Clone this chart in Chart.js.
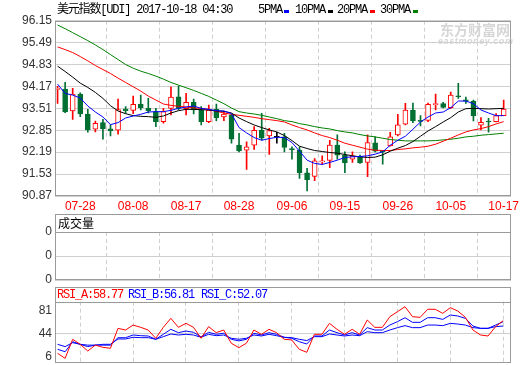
<!DOCTYPE html>
<html><head><meta charset="utf-8">
<script src="https://cdn.jsdelivr.net/npm/chart.js@4.4.0/dist/chart.umd.min.js"></script>
<style>
html,body{margin:0;padding:0;background:#fff;}
#wrap{position:relative;width:520px;height:365px;overflow:hidden;background:#fff;}
canvas{position:absolute;left:0;top:0;}
.t{position:absolute;white-space:nowrap;font-size:12px;line-height:12px;}
.mono{font-family:'Liberation Mono','Noto Sans CJK SC',monospace;letter-spacing:-1.2px;}
.sq{position:absolute;width:5px;height:3px;}
</style></head><body>
<div id="wrap">
<canvas id="c1" width="520" height="365"></canvas>
<canvas id="c2" width="520" height="365"></canvas>
<canvas id="c3" width="520" height="365"></canvas>
<div class="t" style="left:440px;top:22px;font-family:'Noto Sans CJK SC';font-weight:bold;font-size:14px;line-height:15px;color:#d6d6d6;">东方财富网</div>
<div class="t" style="left:438px;top:37px;font-family:'Liberation Sans';font-weight:bold;font-style:italic;font-size:9px;line-height:9px;letter-spacing:0.6px;color:#d6d6d6;">eastmoney.com</div>
<div class="t mono" style="left:57px;top:4px;color:#000;">美元指数[UDI] 2017-10-18 04:30</div>
<div class="t mono" style="left:258px;top:4px;">5PMA</div><div class="sq" style="left:284px;top:10px;background:#0000ff"></div>
<div class="t mono" style="left:295px;top:4px;">10PMA</div><div class="sq" style="left:328px;top:10px;background:#000"></div>
<div class="t mono" style="left:337px;top:4px;">20PMA</div><div class="sq" style="left:370px;top:10px;background:#ff0000"></div>
<div class="t mono" style="left:380px;top:4px;">30PMA</div><div class="sq" style="left:413px;top:10px;background:#008000"></div>
<div class="t" style="left:58px;top:217px;font-family:'Noto Sans CJK SC';">成交量</div>
<div class="t mono" style="left:57px;top:289px;color:#ff0000;">RSI_A:58.77</div>
<div class="t mono" style="left:128px;top:289px;color:#0000ff;">RSI_B:56.81</div>
<div class="t mono" style="left:201px;top:289px;color:#0000ff;">RSI_C:52.07</div>
</div>
<script>
// ---- data ----
const tickIdx = [3, 10, 17, 24, 31, 38, 45, 52, 59];
const tickLabels = ['07-28','08-08','08-17','08-28','09-06','09-15','09-26','10-05','10-17'];
const yTicks = [96.15, 95.49, 94.83, 94.17, 93.51, 92.85, 92.19, 91.53, 90.87];
const opens  = [94.08,94.09,93.43,93.94,93.34,92.88,93.08,92.89,92.85,93.49,93.45,93.64,93.51,93.41,93.11,93.51,93.86,93.50,93.69,93.46,93.11,93.48,93.25,93.31,92.40,92.25,92.40,92.85,92.68,92.64,92.65,92.30,92.25,91.57,91.46,91.90,91.94,92.40,92.10,91.98,92.05,91.88,92.47,92.22,92.38,92.71,93.03,93.45,93.14,93.15,93.62,93.65,93.53,93.89,93.77,93.73,93.00,93.12,93.11,93.29];
const closes = [94.10,93.40,93.94,93.34,92.86,93.06,92.90,92.84,93.47,93.44,93.63,93.53,93.44,93.11,93.41,93.85,93.51,93.69,93.46,93.11,93.46,93.23,93.34,92.58,92.23,92.35,92.85,92.61,92.84,92.64,92.33,92.26,91.57,91.36,91.93,91.93,92.40,92.10,91.87,92.08,91.87,92.48,92.22,92.20,92.65,93.01,93.46,93.13,93.12,93.63,93.64,93.54,93.91,93.86,93.73,93.29,93.09,93.10,93.29,93.49];
const highs  = [94.17,94.29,94.11,93.98,93.48,93.13,93.18,93.01,93.79,93.56,93.88,93.91,93.81,93.51,93.51,94.16,94.18,93.96,93.79,93.56,93.61,93.64,93.43,93.32,92.76,92.50,92.96,93.36,92.91,92.79,92.76,92.35,92.35,91.70,92.00,92.08,92.55,92.71,92.20,92.20,92.10,92.71,92.65,92.24,92.79,93.33,93.66,93.67,93.29,93.67,93.94,93.69,94.00,94.26,93.85,93.76,93.23,93.21,93.35,93.76];
const lows   = [93.66,93.38,93.18,93.26,92.79,92.80,92.58,92.68,92.73,93.36,93.35,93.46,93.37,92.96,93.06,93.31,93.46,93.31,93.34,93.01,93.08,93.13,93.14,92.46,92.20,91.67,92.27,92.55,92.12,92.46,92.20,91.98,91.40,91.02,91.33,91.82,91.72,91.98,91.57,91.88,91.85,91.45,92.20,91.83,92.37,92.68,93.01,93.08,92.98,93.11,93.46,93.52,93.51,93.81,93.66,93.13,92.86,92.79,93.10,93.29];
const ma5  = [94.24,93.96,93.91,93.82,93.58,93.40,93.25,93.02,93.08,93.22,93.28,93.33,93.40,93.41,93.41,93.45,93.51,93.55,93.58,93.51,93.48,93.44,93.43,93.35,92.93,92.77,92.63,92.55,92.60,92.64,92.63,92.48,92.22,91.95,91.85,91.82,91.88,91.95,92.03,92.05,92.06,92.08,92.13,92.20,92.40,92.55,92.67,92.88,93.10,93.25,93.37,93.40,93.53,93.73,93.73,93.65,93.46,93.37,93.29,93.29];
const ma10 = [94.78,94.62,94.45,94.27,94.14,93.99,93.81,93.59,93.43,93.35,93.29,93.27,93.26,93.24,93.28,93.37,93.44,93.48,93.48,93.47,93.46,93.43,93.42,93.37,93.22,93.11,93.01,92.93,92.86,92.80,92.69,92.54,92.37,92.30,92.24,92.21,92.18,92.16,92.12,92.08,92.05,92.03,92.04,92.11,92.22,92.31,92.39,92.51,92.67,92.83,92.96,93.10,93.23,93.40,93.50,93.51,93.50,93.49,93.50,93.51];
const ma20 = [95.36,95.28,95.19,95.07,94.94,94.80,94.68,94.56,94.42,94.29,94.16,94.03,93.88,93.76,93.64,93.60,93.57,93.55,93.52,93.51,93.48,93.42,93.37,93.33,93.30,93.27,93.24,93.20,93.17,93.14,93.10,93.01,92.93,92.86,92.77,92.69,92.63,92.55,92.46,92.40,92.34,92.28,92.25,92.24,92.24,92.27,92.29,92.32,92.34,92.37,92.43,92.52,92.61,92.71,92.80,92.86,92.90,92.96,93.04,93.11];
const ma30 = [96.02,95.91,95.79,95.67,95.55,95.42,95.28,95.13,94.98,94.83,94.72,94.63,94.56,94.48,94.39,94.29,94.21,94.13,94.05,93.96,93.87,93.76,93.65,93.52,93.41,93.37,93.34,93.30,93.25,93.20,93.14,93.11,93.05,93.01,92.96,92.92,92.89,92.84,92.80,92.77,92.72,92.68,92.65,92.61,92.57,92.55,92.53,92.53,92.53,92.53,92.54,92.56,92.58,92.61,92.65,92.67,92.70,92.72,92.74,92.76];
const volTicks = [0, 1, 2, 3, 4];
const volTickLabels = ['0','0','0','0','0'];
const volumes = [];
const rsiTicks = [81, 44, 6];
const rsiA = [11.8,3.8,34.4,26.3,15.5,25,21.5,19.9,52,49.3,57.3,53.6,49.3,36,53.6,68.1,53.6,60,53.6,36,54.7,45,49.3,28,20.9,28,49.3,42.4,50.4,45,34.4,33.3,18.3,13.5,42.4,42.4,60,50.4,42.4,50.4,42.4,65.4,53.6,53.6,70.7,78.7,86.8,70.7,69.6,82.6,82.6,76.1,85.2,79.8,69.6,49.3,41.3,39.7,54.7,64.3];
const rsiB = [18.3,14.4,30.5,26.3,22.6,25,25,25,36.9,36.9,41.3,40.2,39.7,34.4,42.4,50.4,45,47.7,45.6,38.1,45.6,42.4,44,34.4,31.8,34.4,44,41.3,45,42.4,37.6,36,30.5,26.8,39.7,39.7,49.3,45,41.3,45,41.3,53.1,49.3,49.3,57.3,62.7,69.1,61.6,61.6,69.1,69.1,66.4,73.4,71.8,68,55.7,52,52,57.3,62.7];
const rsiC = [26.3,22.6,29,26.3,25,25,26.3,26.3,34.9,34.9,37.6,37,37,34.4,38.6,42.9,41.3,42.4,41.3,37.6,42.4,40.2,41.3,36,34.4,36,41.3,39.7,42.4,40.2,37.6,37,34.4,32.3,38.6,38.6,42.9,41.3,39.7,41.3,40.2,46.6,45,45,49.3,53.1,56.3,53.1,53.1,57.3,57.3,56.3,60,58.9,57.3,53.1,52,52,54.7,55.7];

// ---- styling ----
const RED = '#ff0000', GREEN = '#006f32', GRID = '#cfcfcf', BORDER = '#9a9a9a';
const idx = opens.map((_, i) => i);
const candleColor = i => closes[i] > opens[i] ? RED : (closes[i] < opens[i] ? GREEN : '#000000');
const XMIN = -0.34, XMAX = 59.97;

function xScale(showLabels) {
  return {
    type: 'linear', min: XMIN, max: XMAX, offset: false,
    afterBuildTicks: ax => { ax.ticks = tickIdx.map(v => ({ value: v })); },
    afterFit: ax => { ax.paddingLeft = 0; ax.paddingRight = 0; ax.height = showLabels ? 18 : 0; },
    grid: { color: GRID, drawTicks: false, lineWidth: 1 },
    border: { display: false, dash: [4, 3] },
    ticks: {
      display: showLabels, autoSkip: false, maxRotation: 0, padding: 3,
      color: RED, font: { family: 'Liberation Sans', size: 12 },
      callback: v => { const k = tickIdx.indexOf(v); return k >= 0 ? tickLabels[k] : ''; }
    }
  };
}
function yBase(ticks, fmt, gridColor) {
  return {
    min: Math.min(...ticks), max: Math.max(...ticks),
    afterBuildTicks: ax => { ax.ticks = ticks.map(v => ({ value: v })); },
    afterFit: ax => { ax.width = 55; ax.paddingTop = 0; ax.paddingBottom = 0; },
    grid: { color: gridColor || GRID, drawTicks: false, lineWidth: 1 },
    border: { display: false },
    ticks: { color: '#333333', padding: 3, font: { family: 'Liberation Sans', size: 12 }, callback: fmt }
  };
}
const boxPlugin = (headerTop) => ({
  id: 'box',
  afterDraw(chart) {
    const { ctx, chartArea: a } = chart;
    const L = Math.round(a.left) + 0.5, R = Math.round(a.right) - 0.5;
    const T = Math.round(a.top) + 0.5, B = Math.round(a.bottom) - 0.5;
    ctx.save();
    ctx.strokeStyle = BORDER; ctx.lineWidth = 1;
    if (headerTop != null) {
      const H = Math.round(headerTop) + 0.5;
      ctx.strokeRect(L, H, R - L, B - H);
      ctx.beginPath(); ctx.moveTo(L, T); ctx.lineTo(R, T); ctx.stroke();
    } else {
      ctx.strokeRect(L, T, R - L, B - T);
    }
    ctx.restore();
  }
});
const common = { responsive: false, animation: false, events: [],
  plugins: { legend: { display: false }, tooltip: { enabled: false } } };

const line = (arr, color, order) => ({
  type: 'line', data: idx.map(i => ({ x: i, y: arr[i] })), borderColor: color,
  borderWidth: 1, pointRadius: 0, tension: 0, fill: false, order
});

// ---- main candle chart ----
new Chart(document.getElementById('c1'), {
  data: {
    datasets: [
      { type: 'bar', data: idx.map(i => ({ x: i, y: [lows[i], highs[i]] })),
        backgroundColor: idx.map(candleColor), borderWidth: 0, barThickness: 1,
        grouped: false, order: 6 },
      { type: 'bar', data: idx.map(i => ({ x: i, y: [opens[i], closes[i]] })),
        backgroundColor: idx.map(i => closes[i] > opens[i] ? '#ffffff' : candleColor(i)),
        borderColor: idx.map(candleColor), borderWidth: 1, borderSkipped: false,
        barThickness: 5, minBarLength: 1, grouped: false, order: 5 },
      line(ma30, '#008000', 4),
      line(ma20, RED, 3),
      line(ma10, '#000000', 2),
      line(ma5, '#0000ff', 1)
    ]
  },
  options: Object.assign({}, common, {
    layout: { padding: { left: 0, right: 9, top: 20.7, bottom: 151 } },
    scales: { x: xScale(true), y: yBase(yTicks, v => v.toFixed(2)) }
  }),
  plugins: [boxPlugin(null)]
});

// ---- volume panel ----
new Chart(document.getElementById('c2'), {
  data: { datasets: [{ type: 'bar', data: volumes, backgroundColor: RED }] },
  options: Object.assign({}, common, {
    layout: { padding: { left: 0, right: 9, top: 232, bottom: 85 } },
    scales: { x: xScale(false), y: yBase(volTicks, v => volTickLabels[volTicks.indexOf(v)]) }
  }),
  plugins: [boxPlugin(214)]
});

// ---- RSI panel ----
const rsiY = yBase(rsiTicks, v => String(v), ctx => (ctx.tick && ctx.tick.value === 44) ? GRID : 'rgba(0,0,0,0)');
rsiY.min = -4.2; rsiY.max = 94.8;
new Chart(document.getElementById('c3'), {
  data: {
    datasets: [
      line(rsiC, '#0000ff', 3),
      line(rsiB, '#0000ff', 2),
      line(rsiA, RED, 1)
    ]
  },
  options: Object.assign({}, common, {
    layout: { padding: { left: 0, right: 9.5, top: 301.7, bottom: 1.7 } },
    scales: { x: xScale(false), y: rsiY }
  }),
  plugins: [boxPlugin(287)]
});
</script>
</body></html>
